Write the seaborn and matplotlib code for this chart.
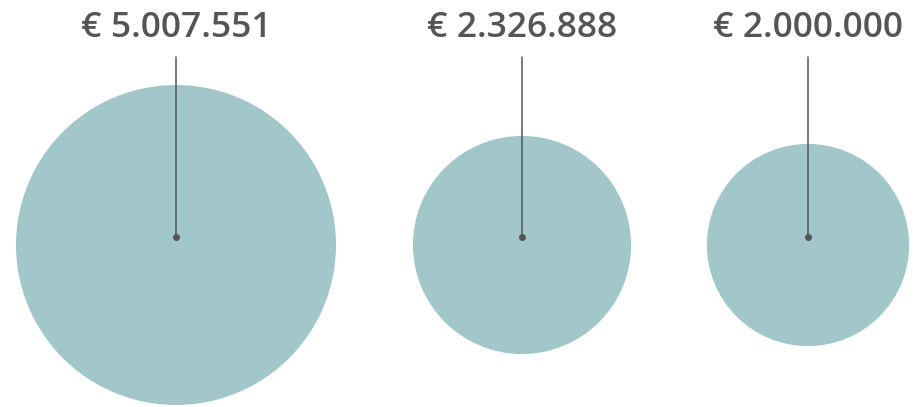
#!/usr/bin/env python3

import pandas as pd
import matplotlib.pyplot as plt
import seaborn as sns

labels = ["€ 5.007.551", "€ 2.326.888", "€ 2.000.000"]
amounts = [5007551, 2326888, 2000000]
x_pos = [176, 522, 808]

CIRCLE_COLOR = "#a2c7ca"
INK = "#555555"
DPI = 100
MAX_RADIUS_PX = 160


def main():
    df = pd.DataFrame({"label": labels, "amount": amounts, "x": x_pos})
    df["y"] = 245

    sns.set_style("white")
    plt.rcParams["font.family"] = ["Open Sans", "DejaVu Sans"]

    fig = plt.figure(figsize=(9.13, 4.07), dpi=DPI)
    ax = fig.add_axes([0, 0, 1, 1])

    # area of each circle proportional to the amount
    max_s = (2 * MAX_RADIUS_PX * 72 / DPI) ** 2
    sns.scatterplot(data=df, x="x", y="y", size="amount",
                    sizes=(0, max_s), size_norm=(0, max(amounts)),
                    color=CIRCLE_COLOR, edgecolor="none", alpha=1,
                    legend=False, ax=ax, zorder=1)

    for _, row in df.iterrows():
        ax.plot([row["x"], row["x"]], [57, 237], color=INK, lw=1.1, zorder=2)
        ax.plot(row["x"], 237, "o", color=INK, ms=4, zorder=3)
        ax.text(row["x"], 28, row["label"], ha="center", va="center",
                fontsize=25.5, color=INK, fontweight="semibold")

    ax.set_xlim(0, 913)
    ax.set_ylim(407, 0)
    ax.axis("off")
    fig.savefig("out.png", dpi=DPI)
    plt.close(fig)


if __name__ == "__main__":
    main()
